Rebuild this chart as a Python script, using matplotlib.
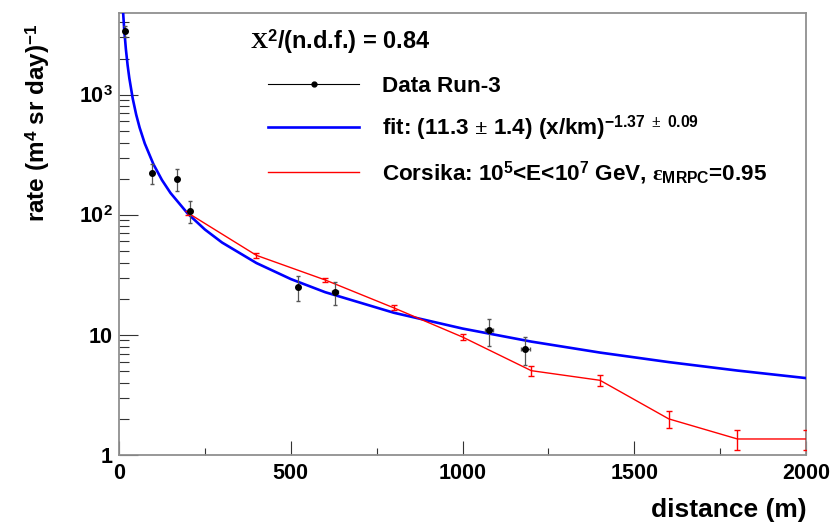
import matplotlib
matplotlib.use('Agg')
import matplotlib.pyplot as plt
from matplotlib.lines import Line2D
from matplotlib.ticker import FixedLocator, MultipleLocator, NullFormatter

plt.rcParams['font.family'] = ['Liberation Sans', 'DejaVu Sans']
plt.rcParams['font.weight'] = 'bold'
plt.rcParams['axes.labelweight'] = 'bold'
plt.rcParams['mathtext.fontset'] = 'custom'
plt.rcParams['mathtext.rm'] = 'Liberation Serif'
plt.rcParams['mathtext.it'] = 'Liberation Serif'
plt.rcParams['mathtext.bf'] = 'Liberation Sans:bold'
plt.rcParams['mathtext.sf'] = 'Liberation Sans:bold'

# Data Run-3
data_x = [17, 97, 169, 206, 520, 629, 1077, 1183]
data_y = [3400, 224, 200, 108, 25.0, 22.8, 10.9, 7.6]
data_yerr = [350, 43, 42, 22, 6, 5, 2.8, 2.0]
data_xerr = [0, 0, 0, 0, 0, 8, 12, 12]

# Corsika simulation
cors_x = [200, 400, 600, 800, 1000, 1200, 1400, 1600, 1800, 2000]
cors_y = [104, 46, 28.7, 16.8, 9.6, 5.04, 4.19, 2.0, 1.36, 1.36]
cors_err = [4, 2, 1.2, 0.8, 0.5, 0.45, 0.45, 0.32, 0.26, 0.26]

# fit curve, points
fit_x = [10, 12, 15, 20, 25, 30, 40, 50, 60, 75, 100, 125, 150, 200, 250,
         300, 400, 500, 600, 800, 1000, 1200, 1400, 1600, 1800, 2000]
fit_y = [6209, 4836, 3561, 2402, 1770, 1379, 929, 684, 533, 393, 265, 195,
         152, 102.5, 75.5, 58.8, 39.7, 29.2, 22.7, 15.3, 11.3, 8.80, 7.13,
         5.94, 5.05, 4.37]

xticks = [0, 500, 1000, 1500, 2000]
xticklabels = ['0', '500', '1000', '1500', '2000']
yticks = [1, 10, 100, 1000]
yticklabels = ['1', '10', r'10$^{\mathdefault{2}}$', r'10$^{\mathdefault{3}}$']

labels = ['Data Run-3',
          r'fit: (11.3 $\pm$ 1.4) (x/km)$^{\mathdefault{-1.37}\ \pm\ \mathdefault{0.09}}$',
          r'Corsika: 10$^{\mathdefault{5}}$<E<10$^{\mathdefault{7}}$ GeV, '
          r'$\epsilon_{\mathdefault{MRPC}}$=0.95']
chi2_text = r'$\mathrm{X}^{\mathdefault{2}}$/(n.d.f.) = 0.84'

fig = plt.figure(figsize=(8.38, 5.25), dpi=100)
ax = fig.add_axes([0.142, 0.1333, 0.820, 0.842])

ax.plot(fit_x, fit_y, color='#0000ff', lw=1.9, zorder=3)
ax.errorbar(cors_x, cors_y, yerr=cors_err, color='#ff0000', lw=1.0,
            elinewidth=1.0, capsize=2, zorder=4)
ax.errorbar(data_x, data_y, yerr=data_yerr, xerr=data_xerr, fmt='o',
            color='black', ms=4, ecolor='#555555', elinewidth=0.9,
            capsize=1.5, zorder=5)

ax.set_yscale('log')
ax.set_xlim(0, 2000)
ax.set_ylim(1, 4800)

ax.xaxis.set_major_locator(FixedLocator(xticks))
ax.set_xticklabels(xticklabels)
ax.xaxis.set_minor_locator(MultipleLocator(250))
ax.yaxis.set_major_locator(FixedLocator(yticks))
ax.set_yticklabels(yticklabels)
ax.yaxis.set_minor_locator(FixedLocator([m * 10 ** d for d in range(4) for m in range(2, 10)]))
ax.yaxis.set_minor_formatter(NullFormatter())

ax.tick_params(axis='x', which='major', direction='in', length=10, width=0.8,
               labelsize=15.5, pad=5.5, color='#333333')
ax.tick_params(axis='x', which='minor', direction='in', length=5, width=0.8,
               color='#333333')
ax.tick_params(axis='y', which='major', direction='in', length=13.5, width=0.8,
               labelsize=15.5, pad=4.5, color='#333333')
ax.tick_params(axis='y', which='minor', direction='in', length=7, width=0.8,
               color='#333333')
for s in ax.spines.values():
    s.set_color('#909090')
    s.set_linewidth(1.3)

ax.set_xlabel('distance (m)', fontsize=19, loc='right')
ax.xaxis.set_label_coords(1.0, -0.097)
ax.set_ylabel(r'rate (m$^{\mathdefault{4}}$ sr day)$^{\mathdefault{-1}}$', fontsize=17.5, loc='top')
ax.yaxis.set_label_coords(-0.098, 0.975)

ax.text(0.1907, 0.9186, chi2_text, transform=ax.transAxes, fontsize=17,
        va='baseline', ha='left')

handles = [Line2D([], [], color='black', lw=0.8, marker='o', ms=3.5),
           Line2D([], [], color='#0000ff', lw=1.9),
           Line2D([], [], color='#ff0000', lw=1.0)]
ax.legend(handles, labels, loc='upper left', bbox_to_anchor=(0.217, 0.857),
          frameon=False, fontsize=16.2, handlelength=4.05, handletextpad=1.0,
          labelspacing=0.72, borderpad=0, borderaxespad=0)

fig.savefig('out.png', dpi=100)
